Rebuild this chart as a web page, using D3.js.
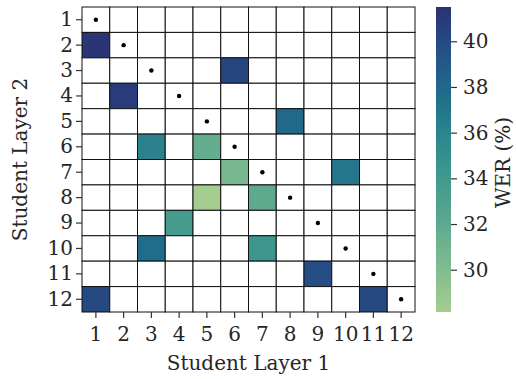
<!DOCTYPE html>
<html>
<head>
<meta charset="utf-8">
<script src="https://cdn.jsdelivr.net/npm/d3@7"></script>
<style>
  body { margin: 0; background: #fff; }
  svg { display: block; }
  text { font-family: "DejaVu Serif", serif; fill: #262626; }
</style>
</head>
<body>
<svg id="chart"></svg>
<script>
// layer indices on both axes
const layers = d3.range(1, 13);

// WER (%) for the layer pairs that have a value: [layer1, layer2, wer]
const cellValues = [
  [1, 2, 41.3],
  [6, 3, 40.2],
  [2, 4, 40.8],
  [8, 5, 37.9],
  [3, 6, 36.1],
  [5, 6, 31.6],
  [6, 7, 30.5],
  [10, 7, 37.0],
  [5, 8, 28.2],
  [7, 8, 32.0],
  [4, 9, 33.6],
  [3, 10, 37.7],
  [7, 10, 34.3],
  [9, 11, 39.8],
  [1, 12, 40.0],
  [11, 12, 40.0]
];

const colorTicks = [30, 32, 34, 36, 38, 40];
const werRange = [28.15, 41.5];

// approximate seaborn "crest"
const crest = d3.piecewise(d3.interpolateRgb, [
  "#a5cd90", "#80bc8f", "#5eaa8f", "#419a8e", "#2d878e",
  "#1f6c8b", "#255086", "#2c3172"
]);

const width = 516, height = 379;
const svg = d3.select("#chart").attr("width", width).attr("height", height);

const grid = { left: 82, top: 7, right: 415, bottom: 312 };

const x = d3.scaleBand().domain(layers).range([grid.left, grid.right]);
const y = d3.scaleBand().domain(layers).range([grid.top, grid.bottom]);
const color = d3.scaleSequential(crest).domain(werRange);

const lookup = new Map(cellValues.map(d => [d[0] + "-" + d[1], d[2]]));

// all cells
const cells = [];
layers.forEach(r => layers.forEach(c => cells.push({ c, r, v: lookup.get(c + "-" + r) })));

svg.append("g")
  .selectAll("rect")
  .data(cells)
  .join("rect")
  .attr("x", d => x(d.c))
  .attr("y", d => y(d.r))
  .attr("width", x.bandwidth())
  .attr("height", y.bandwidth())
  .attr("fill", d => d.v == null ? "#fff" : color(d.v))
  .attr("stroke", "#111")
  .attr("stroke-width", 1);

// diagonal dots
svg.append("g")
  .selectAll("circle")
  .data(layers)
  .join("circle")
  .attr("cx", d => x(d) + x.bandwidth() / 2)
  .attr("cy", d => y(d) + y.bandwidth() / 2)
  .attr("r", 2.2)
  .attr("fill", "#000");

// axes
const xAxis = svg.append("g")
  .attr("transform", `translate(0,${grid.bottom})`)
  .call(d3.axisBottom(x).tickSize(6).tickPadding(9));
const yAxis = svg.append("g")
  .attr("transform", `translate(${grid.left},0)`)
  .call(d3.axisLeft(y).tickSize(6).tickPadding(3));

[xAxis, yAxis].forEach(a => {
  a.select(".domain").remove();
  a.selectAll(".tick line").attr("stroke", "#333").attr("stroke-width", 1.2);
  a.selectAll(".tick text").style("font-size", "20px").attr("fill", "#262626")
    .style("font-family", "DejaVu Serif, serif");
});

svg.append("text")
  .attr("x", (grid.left + grid.right) / 2)
  .attr("y", 370)
  .attr("text-anchor", "middle")
  .style("font-size", "20px")
  .text("Student Layer 1");

svg.append("text")
  .attr("transform", `translate(27,${(grid.top + grid.bottom) / 2}) rotate(-90)`)
  .attr("text-anchor", "middle")
  .style("font-size", "20px")
  .text("Student Layer 2");

// colour bar
const cb = { x: 436, w: 15 };
const cy = d3.scaleLinear().domain(werRange).range([grid.bottom, grid.top]);

const defs = svg.append("defs");
const grad = defs.append("linearGradient")
  .attr("id", "crestGrad")
  .attr("x1", 0).attr("y1", 1).attr("x2", 0).attr("y2", 0);
d3.range(0, 1.001, 0.05).forEach(t => {
  grad.append("stop").attr("offset", t).attr("stop-color", crest(t));
});

svg.append("rect")
  .attr("x", cb.x)
  .attr("y", grid.top)
  .attr("width", cb.w)
  .attr("height", grid.bottom - grid.top)
  .attr("fill", "url(#crestGrad)");

const cAxis = svg.append("g")
  .attr("transform", `translate(${cb.x + cb.w},0)`)
  .call(d3.axisRight(cy).tickValues(colorTicks).tickSize(6).tickPadding(6));
cAxis.select(".domain").remove();
cAxis.selectAll(".tick line").attr("stroke", "#333").attr("stroke-width", 1.2);
cAxis.selectAll(".tick text").style("font-size", "20px").attr("fill", "#262626")
  .style("font-family", "DejaVu Serif, serif");

svg.append("text")
  .attr("transform", `translate(510,${(grid.top + grid.bottom) / 2 + 3}) rotate(-90)`)
  .attr("text-anchor", "middle")
  .style("font-size", "20px")
  .text("WER (%)");
</script>
</body>
</html>
